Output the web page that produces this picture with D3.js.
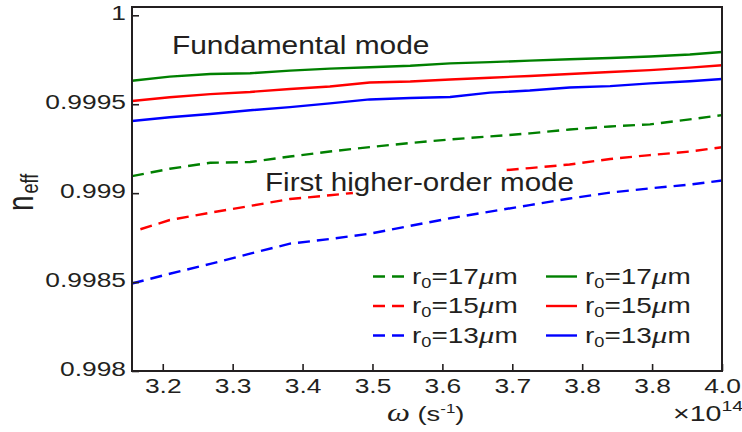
<!DOCTYPE html>
<html>
<head>
<meta charset="utf-8">
<script src="https://cdn.jsdelivr.net/npm/d3@7"></script>
<style>
  body { margin: 0; background: #fff; }
  svg { display: block; font-family: 'Liberation Sans', Arial, sans-serif; }
</style>
</head>
<body>
<svg id="chart" width="742" height="432"></svg>
<script>
// angular frequency grid (x10^14 s^-1)
const omega = [3.156, 3.210, 3.268, 3.325, 3.382, 3.439, 3.496, 3.554, 3.611, 3.668, 3.725, 3.782, 3.840, 3.897, 3.954, 4.000];
// r0=15um higher-order curve has its own grid (starts later, hidden under the label)
const omegaHigh15 = [3.168, 3.210, 3.268, 3.325, 3.382, 3.439, 3.472, 3.580, 3.692, 3.725, 3.782, 3.840, 3.897, 3.954, 4.000];

// fundamental mode
const fund17 = [0.999632, 0.999655, 0.999670, 0.999674, 0.999689, 0.999700, 0.999708, 0.999716, 0.999730, 0.999737, 0.999745, 0.999753, 0.999760, 0.999768, 0.999780, 0.999794];
const fund15 = [0.999518, 0.999539, 0.999557, 0.999569, 0.999586, 0.999600, 0.999622, 0.999628, 0.999639, 0.999649, 0.999659, 0.999670, 0.999681, 0.999692, 0.999706, 0.999719];
const fund13 = [0.999406, 0.999427, 0.999445, 0.999466, 0.999484, 0.999505, 0.999527, 0.999535, 0.999541, 0.999565, 0.999577, 0.999594, 0.999602, 0.999617, 0.999629, 0.999642];

// first higher-order mode
const high17 = [0.999096, 0.999137, 0.999171, 0.999175, 0.999206, 0.999234, 0.999259, 0.999282, 0.999302, 0.999319, 0.999336, 0.999358, 0.999375, 0.999387, 0.999415, 0.999439];
const high15 = [0.998797, 0.998849, 0.998890, 0.998928, 0.998967, 0.998988, 0.999001, null, 0.999130, 0.999141, 0.999161, 0.999192, 0.999214, 0.999234, 0.999258];
const high13 = [0.998492, 0.998547, 0.998602, 0.998660, 0.998716, 0.998742, 0.998772, 0.998816, 0.998859, 0.998896, 0.998933, 0.998970, 0.999003, 0.999027, 0.999048, 0.999071];

// axis ticks
const xTicks = [3.2, 3.3, 3.4, 3.5, 3.6, 3.7, 3.8, 3.9, 4.0];
const xTickLabels = ['3.2', '3.3', '3.4', '3.5', '3.6', '3.7', '3.8', '3.8', '4.0'];
const yTicks = [0.998, 0.9985, 0.999, 0.9995, 1];
const yTickLabels = ['0.998', '0.9985', '0.999', '0.9995', '1'];

const radii = ['17', '15', '13'];
const colors = ['#008000', '#ff0000', '#0000ff'];

const svg = d3.select('#chart');
const margin = { top: 7, right: 20, bottom: 61, left: 132 };
const width = 742 - margin.left - margin.right;
const height = 432 - margin.top - margin.bottom;
const ink = '#231f20';
const stretch = 1.32; // the original figure text is horizontally stretched

const x = d3.scaleLinear().domain([3.156, 4.0]).range([margin.left, margin.left + width]);
const y = d3.scaleLinear().domain([0.998, 1.0000467]).range([margin.top + height, margin.top]);

const series = [
  { xs: omega, ys: fund17, color: colors[0], dashed: false },
  { xs: omega, ys: fund15, color: colors[1], dashed: false },
  { xs: omega, ys: fund13, color: colors[2], dashed: false },
  { xs: omega, ys: high17, color: colors[0], dashed: true },
  { xs: omegaHigh15, ys: high15, color: colors[1], dashed: true },
  { xs: omega, ys: high13, color: colors[2], dashed: true }
];

const line = d3
  .line()
  .defined((d) => d[1] != null)
  .x((d) => x(d[0]))
  .y((d) => y(d[1]));

// curves
svg
  .append('g')
  .selectAll('path')
  .data(series)
  .join('path')
  .attr('fill', 'none')
  .attr('stroke', (d) => d.color)
  .attr('stroke-width', 2.4)
  .attr('stroke-dasharray', (d) => (d.dashed ? '12,7' : null))
  .attr('d', (d) => line(d.xs.map((v, i) => [v, d.ys[i]])));

// axes with inward ticks
const xAxis = svg
  .append('g')
  .attr('transform', `translate(0,${margin.top + height})`)
  .call(
    d3.axisBottom(x)
      .tickValues(xTicks)
      .tickSize(-7)
      .tickFormat((d, i) => xTickLabels[i])
  );
xAxis.select('.domain').remove();
xAxis.selectAll('line').attr('stroke', ink).attr('stroke-width', 1.6);
xAxis
  .selectAll('text')
  .attr('y', 22)
  .attr('dy', 0)
  .attr('fill', ink)
  .style('font-size', '20px')
  .attr('transform', `scale(${stretch},1)`);

const yAxis = svg
  .append('g')
  .attr('transform', `translate(${margin.left},0)`)
  .call(
    d3.axisLeft(y)
      .tickValues(yTicks)
      .tickSize(-7)
      .tickFormat((d, i) => yTickLabels[i])
  );
yAxis.select('.domain').remove();
yAxis.selectAll('line').attr('stroke', ink).attr('stroke-width', 1.6);
yAxis
  .selectAll('text')
  .attr('x', -6 / stretch)
  .attr('dy', 4)
  .attr('fill', ink)
  .style('font-size', '20px')
  .attr('transform', `scale(${stretch},1)`);

// frame
svg
  .append('rect')
  .attr('x', margin.left)
  .attr('y', margin.top)
  .attr('width', width)
  .attr('height', height)
  .attr('fill', 'none')
  .attr('stroke', ink)
  .attr('stroke-width', 2);

// helper for stretched text
function label(px, py, sx, size) {
  return svg
    .append('g')
    .attr('transform', `translate(${px},${py}) scale(${sx},1)`)
    .append('text')
    .attr('fill', ink)
    .style('font-size', size + 'px');
}

// mode annotations
label(172, 54, 1.15, 26).text('Fundamental mode');
label(265, 191, 1.16, 25.5).text('First higher-order mode');

// x label
const xl = label(387, 421, 1.3, 21);
xl.append('tspan').style('font-family', "'Liberation Serif', serif").style('font-style', 'italic').style('font-size', '25px').text('ω');
xl.append('tspan').text(' (s');
xl.append('tspan').attr('dy', -8).style('font-size', '13px').text('-1');
xl.append('tspan').attr('dy', 8).text(')');

// exponent
const ex = label(673, 421, 1.3, 22);
ex.append('tspan').text('×10');
ex.append('tspan').attr('dy', -10).style('font-size', '15px').text('14');

// y label
const yl = svg
  .append('g')
  .attr('transform', `translate(33,211) rotate(-90) scale(1,${stretch})`)
  .append('text')
  .attr('fill', ink)
  .style('font-size', '28px');
yl.append('tspan').text('n');
yl.append('tspan').attr('dx', 2).attr('dy', 4).style('font-size', '18px').text('eff');

// legend
const legendRows = [276.5, 306, 335.5];
const legendCols = [
  { x0: 373, x1: 405, tx: 412, dashed: true },
  { x0: 546, x1: 577, tx: 585, dashed: false }
];
legendCols.forEach((c) => {
  radii.forEach((r, i) => {
    const yy = legendRows[i];
    svg
      .append('line')
      .attr('x1', c.x0)
      .attr('x2', c.x1)
      .attr('y1', yy)
      .attr('y2', yy)
      .attr('stroke', colors[i])
      .attr('stroke-width', 2.4)
      .attr('stroke-dasharray', c.dashed ? '12,7' : null);
    const t = label(c.tx, yy + 7, 1.3, 21.5);
    t.append('tspan').text('r');
    t.append('tspan').attr('dy', 4).style('font-size', '14px').text('0');
    t.append('tspan').attr('dy', -4).text('=' + r);
    t.append('tspan').style('font-family', "'Liberation Serif', serif").style('font-style', 'italic').style('font-size', '24px').text('μ');
    t.append('tspan').text('m');
  });
});
</script>
</body>
</html>
